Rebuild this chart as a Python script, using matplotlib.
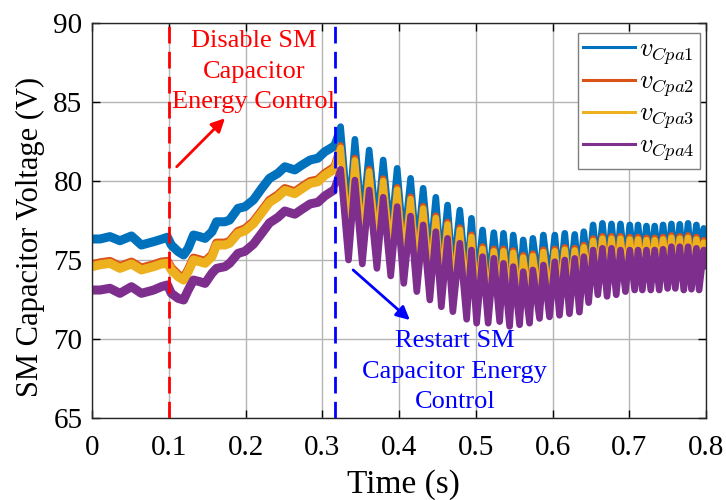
import numpy as np
import matplotlib.pyplot as plt
from matplotlib.lines import Line2D

plt.rcParams['font.family'] = ['Liberation Serif', 'DejaVu Serif']
plt.rcParams['mathtext.fontset'] = 'cm'

# smooth part before the control restart (s, V)
t_pre = [0.0, 0.010, 0.023, 0.036, 0.051, 0.064, 0.080, 0.090, 0.098, 0.103, 0.112,
         0.119, 0.125, 0.132, 0.140, 0.147, 0.156, 0.162, 0.173, 0.179, 0.190, 0.199,
         0.210, 0.221, 0.231, 0.242, 0.251, 0.264, 0.273, 0.284, 0.294, 0.303, 0.314]
v1_pre = [76.33, 76.33, 76.48, 76.22, 76.52, 75.95, 76.16, 76.31, 76.44, 75.95, 75.53,
          75.32, 75.74, 76.58, 76.48, 76.37, 76.79, 77.42, 77.42, 77.53, 78.27, 78.37,
          78.80, 79.54, 80.17, 80.49, 80.90, 80.70, 81.00, 81.33, 81.44, 81.85, 82.17]
v2_pre = [74.70, 74.82, 74.91, 74.59, 74.87, 74.49, 74.70, 74.87, 74.91, 74.49, 74.06,
          73.85, 74.38, 75.12, 75.01, 74.91, 75.33, 76.07, 76.07, 76.18, 76.81, 76.97,
          77.42, 78.12, 78.77, 79.12, 79.52, 79.32, 79.62, 79.97, 80.07, 80.47, 80.82]
v3_pre = [74.58, 74.70, 74.79, 74.47, 74.75, 74.37, 74.58, 74.75, 74.79, 74.37, 73.94,
          73.73, 74.26, 75.00, 74.89, 74.79, 75.21, 75.95, 75.95, 76.06, 76.69, 76.85,
          77.30, 78.00, 78.65, 79.00, 79.40, 79.20, 79.50, 79.85, 79.95, 80.35, 80.70]
v4_pre = [73.10, 73.10, 73.21, 72.89, 73.31, 72.89, 73.10, 73.31, 73.42, 72.89, 72.57,
          72.47, 73.10, 73.73, 73.63, 73.52, 74.16, 74.47, 74.58, 74.79, 75.42, 75.55,
          76.00, 76.70, 77.35, 77.70, 78.10, 77.90, 78.20, 78.55, 78.65, 79.05, 79.40]

# oscillation after restart: peak and trough instants and values
t_peak = [0.3237, 0.3423, 0.3609, 0.3792, 0.3974, 0.4149, 0.4313, 0.4478, 0.4631, 0.4791,
          0.4943, 0.5087, 0.5234, 0.5360, 0.5487, 0.5617, 0.5743, 0.5880, 0.6029, 0.6159,
          0.6289, 0.6407, 0.6528, 0.6650, 0.6768, 0.6885, 0.7006, 0.7114, 0.7224, 0.7331,
          0.7440, 0.7549, 0.7658, 0.7766, 0.7875, 0.7970]
t_trough = [0.334, 0.352, 0.371, 0.389, 0.406, 0.423, 0.440, 0.455, 0.470, 0.488,
            0.501, 0.516, 0.531, 0.544, 0.557, 0.570, 0.583, 0.596, 0.609, 0.622,
            0.635, 0.647, 0.659, 0.671, 0.683, 0.695, 0.707, 0.717, 0.728, 0.739,
            0.750, 0.760, 0.771, 0.781, 0.791, 0.800]

v1_peak = [83.44, 82.64, 81.96, 81.33, 80.80, 80.17, 79.54, 78.97, 78.48, 78.16,
           77.64, 76.90, 76.73, 76.69, 76.58, 76.27, 76.37, 76.58, 76.58, 76.69,
           76.62, 76.79, 77.22, 77.32, 77.28, 77.28, 77.22, 77.22, 77.15, 77.15,
           77.22, 77.28, 77.26, 77.32, 77.22, 77.00]
v1_trough = [77.60, 77.35, 77.00, 76.50, 76.00, 75.45, 74.90, 74.45, 74.10, 73.55,
             73.30, 73.20, 73.30, 72.90, 73.00, 73.00, 73.30, 73.40, 73.40, 73.50,
             73.50, 74.00, 74.40, 74.30, 74.40, 74.50, 74.60, 74.60, 74.60, 74.60,
             74.60, 74.60, 74.50, 74.55, 74.50, 76.00]
v2_peak = [82.25, 81.45, 80.75, 80.15, 79.60, 79.00, 78.40, 77.80, 77.40, 77.05,
           76.60, 75.85, 75.70, 75.70, 75.60, 75.30, 75.40, 75.65, 75.70, 75.80,
           75.75, 75.95, 76.35, 76.50, 76.50, 76.50, 76.45, 76.45, 76.40, 76.40,
           76.45, 76.55, 76.50, 76.55, 76.45, 76.25]
v2_trough = [76.40, 76.15, 75.85, 75.35, 74.85, 74.30, 73.75, 73.30, 72.95, 72.45,
             72.20, 72.15, 72.20, 71.90, 72.00, 72.05, 72.35, 72.40, 72.50, 72.55,
             72.65, 73.20, 73.70, 73.60, 73.65, 73.85, 73.95, 73.90, 73.90, 73.90,
             74.00, 74.00, 73.90, 73.95, 73.90, 75.40]
v3_peak = [82.10, 81.30, 80.60, 80.00, 79.45, 78.85, 78.25, 77.65, 77.25, 76.90,
           76.45, 75.70, 75.55, 75.55, 75.45, 75.15, 75.25, 75.50, 75.55, 75.65,
           75.60, 75.80, 76.20, 76.35, 76.35, 76.35, 76.30, 76.30, 76.25, 76.25,
           76.30, 76.40, 76.35, 76.40, 76.30, 76.10]
v3_trough = [76.30, 76.05, 75.75, 75.25, 74.75, 74.20, 73.65, 73.20, 72.85, 72.35,
             72.10, 72.05, 72.10, 71.80, 71.90, 71.95, 72.25, 72.30, 72.40, 72.45,
             72.55, 73.10, 73.60, 73.50, 73.55, 73.75, 73.85, 73.80, 73.80, 73.80,
             73.90, 73.90, 73.80, 73.85, 73.80, 75.30]
v4_peak = [80.74, 80.06, 79.43, 78.97, 78.38, 77.78, 77.22, 76.79, 76.37, 76.06,
           75.63, 75.21, 75.11, 74.79, 74.58, 74.26, 74.37, 74.68, 74.89, 75.00,
           75.10, 75.21, 75.63, 75.74, 75.74, 75.63, 75.63, 75.63, 75.63, 75.63,
           75.68, 75.84, 75.84, 75.84, 75.74, 75.63]
v4_trough = [75.00, 74.75, 74.47, 73.99, 73.52, 73.00, 72.47, 72.04, 71.73, 71.25,
             71.00, 71.00, 71.10, 70.80, 70.90, 71.00, 71.30, 71.40, 71.50, 71.60,
             71.70, 72.30, 72.80, 72.70, 72.80, 73.00, 73.10, 73.10, 73.10, 73.10,
             73.20, 73.20, 73.10, 73.15, 73.10, 74.60]

labels = [r'$v_{Cpa1}$', r'$v_{Cpa2}$', r'$v_{Cpa3}$', r'$v_{Cpa4}$']
colors = ['#0072BD', '#D95319', '#EDB120', '#7E2F8E']
x_ticks = [0, 0.1, 0.2, 0.3, 0.4, 0.5, 0.6, 0.7, 0.8]
x_tick_labels = ['0', '0.1', '0.2', '0.3', '0.4', '0.5', '0.6', '0.7', '0.8']
y_ticks = [65, 70, 75, 80, 85, 90]
t_disable = 0.1
t_restart = 0.316


def build(pre, peaks, troughs):
    t = np.concatenate([t_pre, t_peak, t_trough])
    v = np.concatenate([pre, peaks, troughs])
    order = np.argsort(t)
    return t[order], v[order]


series = [(v1_pre, v1_peak, v1_trough), (v2_pre, v2_peak, v2_trough),
          (v3_pre, v3_peak, v3_trough), (v4_pre, v4_peak, v4_trough)]

fig = plt.figure(figsize=(7.26, 5), dpi=100)
ax = fig.add_axes([92.3 / 726, 82 / 500, 613.7 / 726, 395 / 500])

for (pre, pk, tr), c in zip(series, colors):
    t, v = build(pre, pk, tr)
    ax.plot(t, v, color=c, lw=4.8, solid_joinstyle='round', solid_capstyle='round')
    ax.plot(t_pre, pre, color=c, lw=6.5, solid_joinstyle='round', solid_capstyle='round')

ax.axvline(t_disable, color='red', lw=2, linestyle=(0, (6, 3)), zorder=5)
ax.axvline(t_restart, color='blue', lw=2, linestyle=(0, (6, 3)), zorder=5)

ax.text(0.2107, 86.92, 'Disable SM\nCapacitor\nEnergy Control', color='red',
        fontsize=19, ha='center', va='center', linespacing=1.5)
ax.text(0.4726, 67.93, 'Restart SM\nCapacitor Energy\nControl', color='blue',
        fontsize=19, ha='center', va='center', linespacing=1.5)
ax.annotate('', xy=(0.1729, 83.97), xytext=(0.110, 80.9),
            arrowprops=dict(arrowstyle='-|>', color='red', lw=2,
                            mutation_scale=20, shrinkA=0, shrinkB=0))
ax.annotate('', xy=(0.414, 71.2), xytext=(0.340, 74.37),
            arrowprops=dict(arrowstyle='-|>', color='blue', lw=2,
                            mutation_scale=20, shrinkA=0, shrinkB=0))

ax.set_xlim(0, 0.8)
ax.set_ylim(65, 90)
ax.set_xticks(x_ticks)
ax.set_xticklabels(x_tick_labels)
ax.set_yticks(y_ticks)
ax.grid(True, color='#b4b4b4', lw=1)
ax.set_axisbelow(True)
ax.tick_params(direction='in', length=6, width=1, top=True, right=True,
               labelsize=21, pad=7)
ax.tick_params(axis='x', pad=12)
for s in ax.spines.values():
    s.set_linewidth(1)
    s.set_color('#262626')
ax.set_xlabel('Time (s)', fontsize=24)
ax.set_ylabel('SM Capacitor Voltage (V)', fontsize=22)
ax.xaxis.set_label_coords((403 - 92.3) / 613.7, (418 - 485) / 395)
ax.yaxis.set_label_coords((30 - 92.3) / 613.7, (418 - 237) / 395)
ax.xaxis.label.set_va('center')
ax.yaxis.label.set_va('center')

handles = [Line2D([], [], color=c, lw=2.2) for c in colors]
leg = ax.legend(handles, labels, loc='upper right', bbox_to_anchor=(0.99, 0.975),
                borderaxespad=0, fontsize=19, handlelength=1.95, handletextpad=0.15,
                labelspacing=0.12, borderpad=0.2, fancybox=False, framealpha=1,
                edgecolor='#7f7f7f')
leg.get_frame().set_linewidth(1)

fig.savefig('out.png', dpi=100)
